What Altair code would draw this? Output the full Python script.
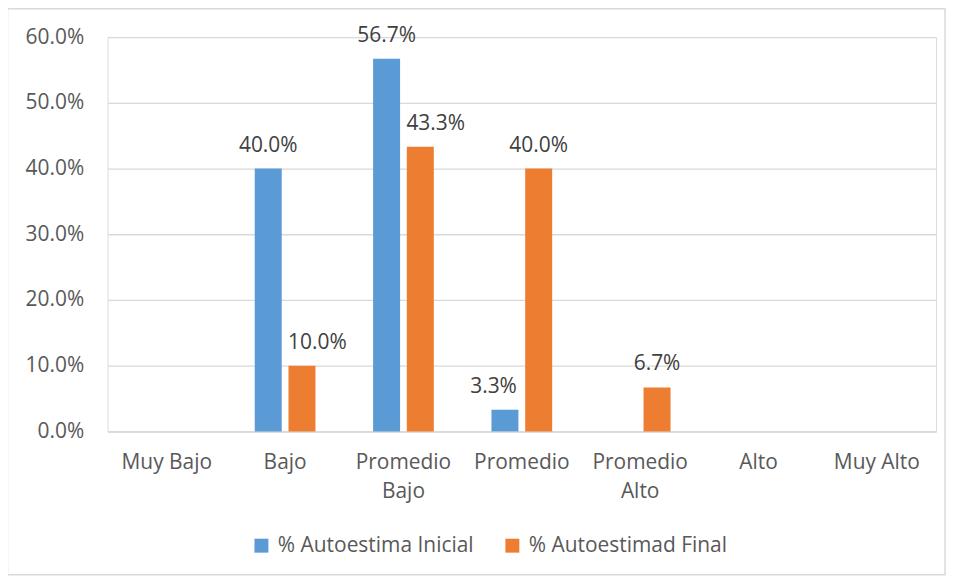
import altair as alt
import pandas as pd

categorias = ["Muy Bajo", "Bajo", "Promedio Bajo", "Promedio", "Promedio Alto", "Alto", "Muy Alto"]
series = ["% Autoestima Inicial", "% Autoestimad Final"]
inicial = [None, 40.0, 56.7, 3.3, None, None, None]
final = [None, 10.0, 43.3, 40.0, 6.7, None, None]
y_ticks = [0.0, 0.1, 0.2, 0.3, 0.4, 0.5, 0.6]
colores = ["#5B9BD5", "#ED7D31"]

rows = []
for serie, vals in zip(series, [inicial, final]):
    for cat, v in zip(categorias, vals):
        if v is not None:
            rows.append({"categoria": cat, "serie": serie, "valor": v / 100.0})
df = pd.DataFrame(rows)

FONT = "Open Sans"
FS = 21
W, H = 832, 396

x_enc = alt.X(
    "categoria:N",
    sort=categorias,
    scale=alt.Scale(domain=categorias, paddingInner=0.487, paddingOuter=0.2435),
    axis=alt.Axis(
        title=None, labelAngle=0, ticks=False, domain=True, domainColor="#D9D9D9",
        domainWidth=1.5, labelFontSize=FS, labelColor="#595959", labelFont=FONT,
        labelPadding=20, labelLineHeight=29,
        labelExpr="length(datum.label) > 9 ? split(datum.label, ' ') : datum.label",
    ),
)
xo_enc = alt.XOffset(
    "serie:N", sort=series,
    scale=alt.Scale(domain=series, paddingInner=0.2, paddingOuter=0),
)
y_enc = alt.Y(
    "valor:Q",
    scale=alt.Scale(domain=[0, 0.6], nice=False),
    axis=alt.Axis(
        title=None, values=y_ticks, format=".1%", ticks=False, domain=False,
        gridColor="#D9D9D9", gridWidth=1.3, labelFontSize=FS, labelColor="#595959",
        labelFont=FONT, labelPadding=24,
    ),
)

base = alt.Chart(df)

bars = base.mark_bar().encode(
    x=x_enc,
    xOffset=xo_enc,
    y=y_enc,
    color=alt.Color(
        "serie:N",
        scale=alt.Scale(domain=series, range=colores),
        legend=alt.Legend(
            title=None, orient="none", legendX=144, legendY=500, direction="horizontal",
            symbolType="square", symbolSize=196, symbolStrokeWidth=0,
            labelFontSize=FS, labelColor="#595959", labelFont=FONT, labelLimit=0,
            labelOffset=6, columnPadding=28,
        ),
    ),
)

# Excel placed some labels beside the bar top instead of centered on it
left_aligned = "(datum.categoria == 'Bajo' || datum.categoria == 'Promedio Bajo') && datum.serie == '% Autoestimad Final'"
right_aligned = "datum.categoria == 'Promedio' && datum.serie == '% Autoestima Inicial'"

def label_layer(filt, align, dx):
    return base.transform_filter(filt).mark_text(
        baseline="alphabetic", align=align, dx=dx, dy=-17, fontSize=FS, font=FONT,
        color="#404040",
    ).encode(
        x=alt.X("categoria:N", sort=categorias),
        xOffset=alt.XOffset("serie:N", sort=series),
        y=alt.Y("valor:Q"),
        text=alt.Text("valor:Q", format=".1%"),
    )

labels_c = label_layer(f"!({left_aligned}) && !({right_aligned})", "center", 0)
labels_l = label_layer(left_aligned, "left", -14)
labels_r = label_layer(right_aligned, "right", 12)

border = alt.Chart(pd.DataFrame({"k": [0]})).mark_rect(
    fill=None, stroke="#D9D9D9", strokeWidth=1.5
).encode(
    x=alt.value(-100.5), x2=alt.value(841), y=alt.value(-28.5), y2=alt.value(540)
)

chart = alt.layer(border, bars, labels_c, labels_l, labels_r).properties(
    width=W, height=H,
    autosize=alt.AutoSizeParams(type="none"),
    padding={"left": 100, "top": 28, "right": 12, "bottom": 146},
).configure_view(stroke=None).configure(background="white")

chart.save("out.html", embed_options={"renderer": "svg", "actions": False})
